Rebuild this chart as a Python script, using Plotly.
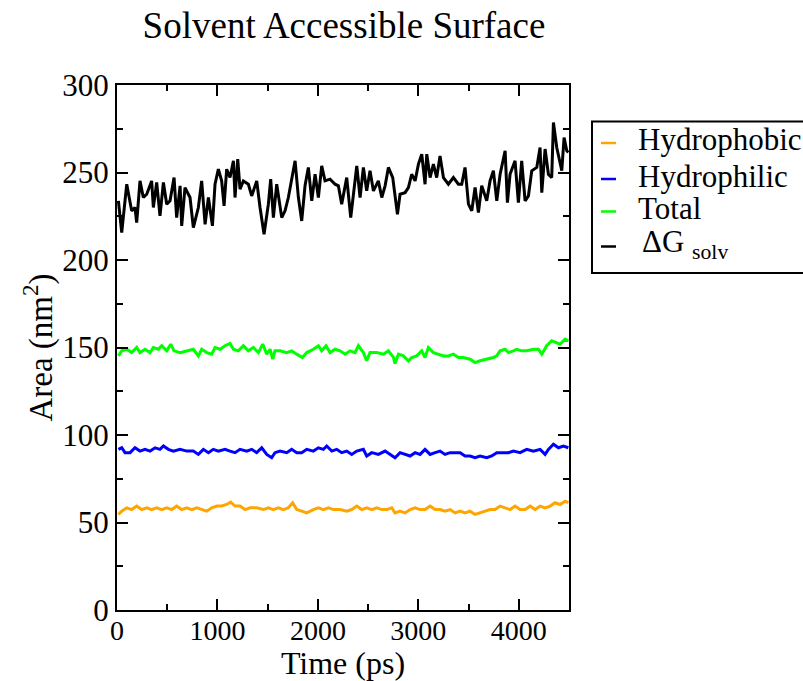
import plotly.graph_objects as go

# ---------------- data ----------------
t_dg = [14, 47, 97, 146, 179, 196, 229, 262, 296, 345, 362, 395, 428, 462, 495, 528, 568, 594, 628, 644,
        677, 727, 760, 810, 843, 877, 910, 950, 976, 1009, 1042, 1066, 1092, 1125, 1159, 1175, 1202, 1225,
        1258, 1308, 1341, 1391, 1424, 1464, 1507, 1530, 1557, 1590, 1640, 1673, 1706, 1739, 1773, 1806,
        1839, 1872, 1905, 1939, 1972, 2005, 2038, 2071, 2121, 2171, 2204, 2237, 2287, 2327, 2353, 2387,
        2420, 2453, 2486, 2519, 2553, 2602, 2636, 2669, 2702, 2745, 2792, 2818, 2868, 2901, 2934, 2968,
        3001, 3034, 3067, 3084, 3117, 3150, 3183, 3216, 3250, 3299, 3349, 3399, 3432, 3465, 3499, 3532,
        3565, 3598, 3631, 3681, 3714, 3747, 3781, 3814, 3864, 3887, 3913, 3963, 3996, 4029, 4063, 4096,
        4129, 4179, 4212, 4229, 4262, 4295, 4328, 4345, 4378, 4428, 4451, 4478, 4494]
dg_solv = [233.8, 215.6, 243.3, 228.1, 230.0, 221.4, 245.2, 235.7, 237.6, 245.2, 230.0, 244.3, 225.2, 244.3,
           231.9, 233.8, 247.1, 224.2, 242.4, 219.5, 241.4, 235.7, 218.5, 230.0, 245.2, 220.4, 235.7, 219.5,
           243.3, 251.9, 245.2, 230.9, 251.9, 247.1, 256.7, 235.7, 257.6, 240.5, 245.2, 243.3, 236.6, 245.2,
           230.0, 214.7, 231.9, 246.2, 224.2, 243.3, 224.2, 228.1, 235.7, 247.1, 256.7, 235.7, 222.3, 242.4,
           252.9, 233.8, 249.0, 235.7, 253.8, 245.2, 246.2, 243.3, 242.4, 231.9, 247.1, 224.2, 235.7, 253.8,
           235.7, 252.9, 239.5, 251.0, 239.5, 245.2, 235.7, 242.4, 252.9, 247.1, 226.1, 237.6, 238.5, 241.4,
           249.0, 245.2, 254.8, 260.5, 243.3, 260.5, 247.1, 254.8, 247.1, 259.5, 247.1, 243.3, 247.1, 243.3,
           243.3, 252.9, 231.9, 228.1, 241.4, 227.1, 242.4, 233.8, 245.2, 251.0, 233.8, 249.0, 262.4, 232.8,
           249.0, 256.7, 232.8, 256.7, 233.8, 236.6, 251.0, 252.9, 264.3, 238.5, 263.4, 249.0, 247.1, 278.6,
           264.3, 251.0, 270.0, 262.4, 261.5]

t_total = [14, 47, 97, 146, 196, 229, 279, 329, 362, 412, 445, 495, 535, 568, 628, 694, 760, 810, 843, 893,
           943, 976, 1026, 1076, 1125, 1159, 1208, 1258, 1308, 1358, 1408, 1451, 1491, 1524, 1550, 1573, 1623,
           1690, 1739, 1789, 1846, 1889, 1955, 2005, 2038, 2081, 2121, 2171, 2221, 2270, 2320, 2370, 2403,
           2453, 2486, 2519, 2586, 2652, 2702, 2752, 2768, 2802, 2851, 2901, 2934, 2984, 3034, 3067, 3100,
           3150, 3200, 3250, 3299, 3349, 3399, 3449, 3515, 3565, 3615, 3681, 3747, 3781, 3814, 3864, 3897,
           3947, 3980, 4029, 4079, 4146, 4195, 4229, 4278, 4328, 4361, 4411, 4461, 4494]
total = [145.2, 148.1, 149.0, 147.1, 150.0, 147.1, 149.0, 147.1, 150.0, 149.0, 151.0, 148.1, 151.9, 148.1,
         147.1, 148.1, 149.0, 145.2, 149.0, 147.1, 146.2, 150.0, 149.0, 151.0, 152.3, 149.0, 148.1, 151.0,
         148.1, 150.0, 147.1, 151.9, 146.2, 149.0, 143.3, 148.1, 148.1, 147.1, 148.1, 146.2, 144.3, 147.1,
         149.0, 151.0, 148.1, 151.0, 147.1, 149.0, 148.1, 146.2, 148.1, 147.1, 151.0, 147.1, 142.4, 147.1,
         147.1, 146.2, 148.1, 144.3, 140.8, 146.2, 145.2, 142.4, 144.3, 145.2, 148.1, 144.3, 150.0, 147.1,
         146.2, 145.2, 145.2, 146.2, 144.3, 144.3, 143.3, 141.4, 142.4, 143.3, 144.3, 145.2, 148.1, 149.0,
         147.1, 148.1, 149.0, 148.1, 148.1, 149.0, 149.0, 146.2, 151.0, 153.8, 152.9, 151.9, 154.8, 153.8]

t_philic = [14, 47, 80, 130, 179, 229, 279, 329, 379, 428, 462, 511, 561, 628, 694, 760, 810, 860, 910, 959,
            1009, 1076, 1125, 1175, 1225, 1291, 1341, 1391, 1441, 1491, 1540, 1573, 1623, 1690, 1739, 1789,
            1839, 1889, 1955, 2005, 2055, 2088, 2138, 2187, 2237, 2287, 2337, 2387, 2453, 2486, 2536, 2602,
            2669, 2719, 2768, 2818, 2868, 2918, 2968, 3017, 3067, 3117, 3167, 3216, 3266, 3316, 3366, 3416,
            3465, 3515, 3565, 3615, 3681, 3731, 3781, 3830, 3897, 3947, 4013, 4079, 4146, 4212, 4262, 4295,
            4345, 4395, 4444, 4494]
hydrophilic = [91.8, 92.7, 89.9, 89.9, 92.7, 90.8, 91.8, 90.8, 92.7, 91.8, 93.7, 91.8, 90.8, 91.8, 90.8,
               90.8, 88.9, 91.8, 89.9, 91.8, 90.8, 91.8, 90.8, 89.9, 91.8, 90.8, 91.8, 89.9, 92.7, 88.9,
               87.0, 89.9, 90.8, 89.9, 91.8, 89.9, 89.9, 91.8, 90.8, 92.7, 91.8, 93.7, 90.8, 91.8, 89.9,
               90.8, 88.9, 90.8, 91.8, 88.0, 89.9, 88.9, 90.8, 88.9, 87.0, 89.9, 88.9, 88.0, 89.9, 88.9,
               91.8, 88.9, 89.9, 90.8, 88.9, 89.9, 89.9, 89.9, 88.0, 88.0, 87.0, 88.0, 87.0, 88.0, 89.9,
               89.9, 89.9, 90.8, 89.9, 91.8, 90.8, 91.8, 88.9, 91.8, 94.7, 92.7, 93.7, 92.7]

t_phobic = [14, 47, 97, 146, 196, 246, 296, 345, 395, 445, 495, 545, 594, 644, 694, 744, 794, 843, 893, 943,
            993, 1042, 1092, 1132, 1175, 1225, 1275, 1325, 1391, 1457, 1507, 1557, 1607, 1657, 1706, 1749,
            1789, 1839, 1889, 1955, 2005, 2055, 2105, 2154, 2221, 2287, 2337, 2387, 2436, 2486, 2536, 2586,
            2636, 2685, 2735, 2768, 2818, 2868, 2918, 2968, 3017, 3067, 3117, 3167, 3216, 3266, 3316, 3366,
            3416, 3465, 3515, 3565, 3615, 3664, 3714, 3764, 3814, 3864, 3914, 3963, 4013, 4063, 4113, 4162,
            4212, 4262, 4312, 4361, 4411, 4461, 4494]
hydrophobic = [54.6, 56.5, 58.4, 57.4, 59.4, 57.4, 58.4, 57.4, 58.4, 57.4, 58.4, 57.4, 59.4, 57.4, 58.4,
               57.4, 58.4, 57.4, 56.5, 58.4, 59.4, 59.4, 60.3, 61.6, 59.4, 59.4, 57.4, 58.4, 58.4, 57.4,
               58.4, 57.4, 58.4, 57.4, 58.4, 61.3, 57.4, 56.5, 55.5, 57.4, 58.4, 57.4, 58.4, 57.4, 57.4,
               56.5, 57.4, 59.4, 57.4, 58.4, 57.4, 58.4, 57.4, 57.4, 58.4, 55.5, 56.5, 55.5, 57.4, 58.4,
               57.4, 57.4, 59.4, 57.4, 57.4, 56.5, 57.4, 55.5, 56.5, 55.5, 56.5, 54.6, 55.5, 56.5, 57.4,
               57.4, 59.4, 58.4, 57.4, 59.4, 57.4, 57.4, 59.4, 57.4, 59.4, 58.4, 59.4, 61.3, 60.3, 62.2,
               61.3]

series_names = ["Hydrophobic", "Hydrophilic", "Total", "\u0394G <sub>solv</sub>"]
series_colors = ["#FFA500", "#0000FF", "#00FF00", "#000000"]
x_ticks = [0, 1000, 2000, 3000, 4000]
y_ticks = [0, 50, 100, 150, 200, 250, 300]

FONT = "Liberation Serif"

fig = go.Figure()
for t, v, c in [(t_phobic, hydrophobic, series_colors[0]),
                (t_philic, hydrophilic, series_colors[1]),
                (t_total, total, series_colors[2]),
                (t_dg, dg_solv, series_colors[3])]:
    fig.add_trace(go.Scatter(x=t, y=v, mode="lines", line=dict(color=c, width=3),
                             showlegend=False, hoverinfo="skip"))

axis_common = dict(showline=True, linecolor="black", linewidth=2, mirror="allticks",
                   ticks="inside", ticklen=11, tickwidth=2, tickcolor="black",
                   showgrid=False, zeroline=False, automargin=False)
fig.update_xaxes(range=[0, 4500], tickvals=x_ticks, ticktext=[str(v) for v in x_ticks],
                 tickfont=dict(family=FONT, size=28, color="black"), ticklabelstandoff=-6,
                 minor=dict(ticks="inside", ticklen=6, tickwidth=2, tickcolor="black",
                            tickvals=[500, 1500, 2500, 3500], showgrid=False),
                 title=dict(text="Time (ps)", font=dict(family=FONT, size=32, color="black"), standoff=0),
                 **axis_common)
fig.update_yaxes(range=[0, 300], tickvals=y_ticks, ticktext=[str(v) for v in y_ticks],
                 tickfont=dict(family=FONT, size=31, color="black"),
                 minor=dict(ticks="inside", ticklen=6, tickwidth=2, tickcolor="black",
                            tickvals=[25, 75, 125, 175, 225, 275], showgrid=False),
                 title=dict(text="Area (nm<sup>2</sup>)", font=dict(family=FONT, size=33, color="black"),
                            standoff=0),
                 **axis_common)

# legend drawn as box + samples + labels (Grace style)
L = 117.0; R = 569.0; T = 85.0; B = 610.0
def px(x): return (x - L) / (R - L)
def py(y): return (B - y) / (B - T)

fig.add_shape(type="rect", xref="paper", yref="paper", x0=px(592), x1=px(812), y0=py(273), y1=py(121.5),
              line=dict(color="black", width=2), fillcolor="white", layer="above")
legend_y = [143, 179, 211.5, 246.5]
for name, col, yy in zip(series_names, series_colors, legend_y):
    fig.add_shape(type="line", xref="paper", yref="paper", x0=px(601), x1=px(616), y0=py(yy), y1=py(yy),
                  line=dict(color=col, width=2.5))
    fig.add_annotation(xref="paper", yref="paper", x=px(636 if yy < 230 else 640), y=py(yy - 3),
                       xanchor="left", yanchor="middle", showarrow=False, text=name,
                       font=dict(family=FONT, size=31, color="black"))

fig.update_layout(
    width=803, height=681,
    margin=dict(l=117, r=234, t=85, b=71),
    paper_bgcolor="white", plot_bgcolor="white",
    title=dict(text="Solvent Accessible Surface", x=344 / 803, xanchor="center",
               y=1 - 25 / 681, yanchor="middle", automargin=False,
               font=dict(family=FONT, size=37, color="black")),
)

fig.write_html("out.html", config={"displayModeBar": False},
               post_script="document.body.style.margin='0';document.body.style.overflow='hidden';")
